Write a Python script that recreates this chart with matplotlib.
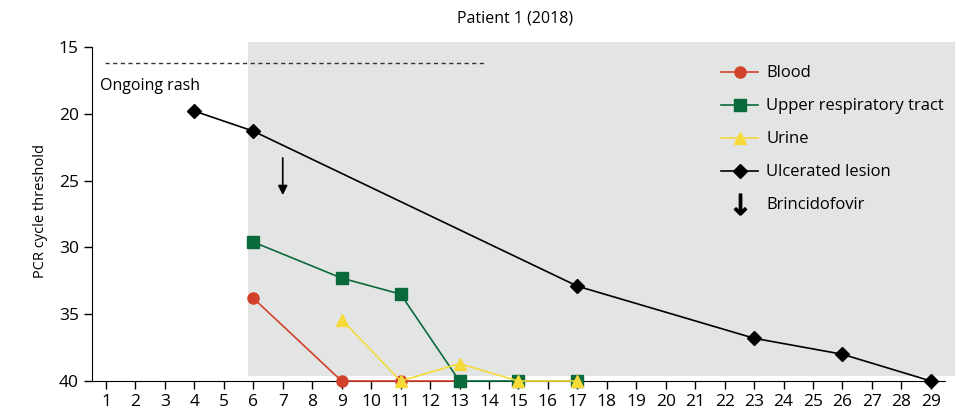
import numpy as np
import matplotlib
matplotlib.use('Agg')
import matplotlib.pyplot as plt
from matplotlib.patches import Rectangle

plt.rcParams['font.family'] = ['Open Sans', 'DejaVu Sans']

# data (day, PCR cycle threshold)
blood_day = [6, 9, 11, 13]
blood_ct = [33.8, 40, 40, 40]
urt_day = [6, 9, 11, 13, 15, 17]
urt_ct = [29.6, 32.3, 33.5, 40, 40, 40]
urine_day = [9, 11, 13, 15, 17]
urine_ct = [35.4, 40, 38.7, 40, 40]
lesion_day = [4, 6, 17, 23, 26, 29]
lesion_ct = [19.8, 21.3, 32.9, 36.8, 38.0, 40]
brinci_day = 7
days = list(range(1, 30))

red = '#d2412b'
green = '#0a6a3b'
yellow = '#f5da3a'
grey = '#e3e4e4'

fig = plt.figure(figsize=(9.63, 4.17), dpi=100)
ax = fig.add_axes([92/963, 1-381/417, (955-92)/963, (381-42)/417])
ax.set_xlim(0.525, 29.82)
ax.set_ylim(40, 14.63)

# grey treatment period
ax.add_patch(Rectangle((5.82, 14.63), 29.82-5.82, 39.63-14.63, color=grey, zorder=0, lw=0))

# ongoing rash
ax.plot([0.97, 13.87], [16.2, 16.2], ls=(0, (3, 2.5)), color='#333333', lw=1)
ax.text(0.8, 17.9, 'Ongoing rash', fontsize=11.5, va='center', ha='left')

ax.plot(blood_day, blood_ct, '-o', color=red, ms=8, lw=1.2, clip_on=False, zorder=3, label='Blood')
ax.plot(urt_day, urt_ct, '-s', color=green, ms=8, lw=1.2, clip_on=False, zorder=4, label='Upper respiratory tract')
ax.plot(urine_day, urine_ct, '-^', color=yellow, ms=8, lw=1.2, clip_on=False, zorder=5, label='Urine')
ax.plot(lesion_day, lesion_ct, '-D', color='black', ms=7, lw=1.2, clip_on=False, zorder=6, label='Ulcerated lesion')

# brincidofovir arrow
ax.annotate('', xy=(brinci_day, 26.3), xytext=(brinci_day, 23.1),
            arrowprops=dict(arrowstyle='-|>', color='black', lw=1.2, mutation_scale=14))
arrow_handle = plt.Line2D([], [], marker=r'$\downarrow$', ls='', color='black', ms=15)
handles, labels = ax.get_legend_handles_labels()
handles.append(arrow_handle)
labels.append('Brincidofovir')
ax.legend(handles, labels, loc='upper left', bbox_to_anchor=(0.712, 0.975), frameon=False,
          fontsize=12, handlelength=2.2, labelspacing=1.02, handletextpad=0.5)

for s in ['top', 'right']:
    ax.spines[s].set_visible(False)
ax.spines['left'].set_bounds(15, 40)
ax.spines['bottom'].set_bounds(0.525, 29.48)
ax.set_yticks([15, 20, 25, 30, 35, 40])
ax.set_xticks(days)
ax.tick_params(labelsize=12.5, length=6, width=1)
ax.tick_params(axis='x', pad=3)
ax.set_ylabel('PCR cycle threshold', fontsize=10.5, labelpad=8)
ax.set_title('Patient 1 (2018)', fontsize=11.5, pad=14)
ax.title.set_position((0.49, 1))

fig.savefig('out.png', dpi=100)
